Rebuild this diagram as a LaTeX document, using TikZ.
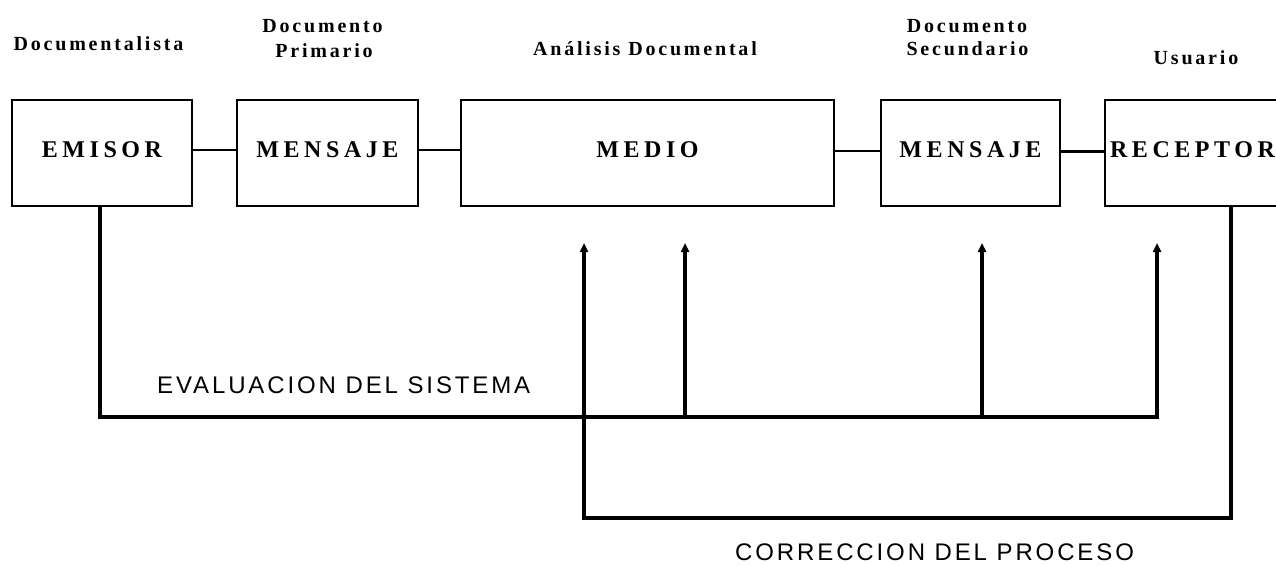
\documentclass[tikz,border=0pt]{standalone}
\usepackage{fontspec}
\setmainfont{Liberation Serif}
\newfontfamily\lblfont[LetterSpace=14]{Liberation Serif}
\newfontfamily\boxfont[LetterSpace=19]{Liberation Serif}
\newfontfamily\capfont[LetterSpace=12]{Liberation Sans}
\usetikzlibrary{arrows.meta}
\begin{document}
\begin{tikzpicture}[x=1pt,y=-1pt,
  blk/.style={draw,line width=1.5pt,minimum height=106pt,inner sep=0pt,
    text height=15pt,text depth=6pt,
    font=\boxfont\bfseries\fontsize{24}{27}\selectfont},
  lbl/.style={anchor=base,inner sep=0pt,
    font=\lblfont\bfseries\fontsize{20}{23}\selectfont},
  captxt/.style={anchor=base west,inner sep=0pt,
    font=\capfont\fontsize{24}{28}\selectfont},
  link/.style={line width=2pt},
  fb/.style={line width=3.2pt},
  arr/.style={fb,-{Triangle[length=9pt,width=8pt]}}]
\useasboundingbox (0,0) rectangle (1276,565);

% top labels
\node[lbl] (l1) at (98.5,50) {Documentalista};
\node[lbl] (l2a) at (322.5,32) {Documento};
\node[lbl] (l2b) at (324,57) {Primario};
\node[lbl] (l3) at (645,55) {Análisis Documental};
\node[lbl] (l4a) at (967,32) {Documento};
\node[lbl] (l4b) at (967.5,55) {Secundario};
\node[lbl] (l5) at (1196,64) {Usuario};

% boxes
\node[blk,minimum width=180pt] (emisor) at (102,153) {EMISOR};
\node[blk,minimum width=181pt] (mens1) at (327.5,153) {MENSAJE};
\node[blk,minimum width=373pt] (medio) at (647.5,153) {MEDIO};
\node[blk,minimum width=179pt] (mens2) at (970.5,153) {MENSAJE};
\node[blk,minimum width=175pt] (recep) at (1192.5,153) {RECEPTOR};

% chain connectors
\draw[link] ([yshift=3pt]emisor.east) -- ([yshift=3pt]mens1.west);
\draw[link] ([yshift=3pt]mens1.east) -- ([yshift=3pt]medio.west);
\draw[link] ([yshift=2pt]medio.east) -- ([yshift=2pt]mens2.west);
\draw[line width=3pt] ([yshift=2pt]mens2.east) -- ([yshift=2pt]recep.west);

% feedback coordinates
\coordinate (ev1) at (100,417);
\coordinate (ev2) at (1157,417);
\coordinate (b2) at (685,417);
\coordinate (b3) at (982,417);
\coordinate (top1) at (584,243);
\coordinate (top2) at (685,243);
\coordinate (top3) at (982,243);
\coordinate (top4) at (1157,243);
\coordinate (co1) at (1231,518);
\coordinate (co2) at (584,518);

% evaluation loop
\draw[arr] (emisor.south -| ev1) -- (ev1) -- (ev2) -- (top4);
\draw[arr] (b2) -- (top2);
\draw[arr] (b3) -- (top3);

% correction loop
\draw[arr] (recep.south -| co1) -- (co1) -- (co2) -- (top1);

% captions
\node[captxt] (ev) at (157,393) {EVALUACION DEL SISTEMA};
\node[captxt] (co) at (735,560) {CORRECCION DEL PROCESO};
\end{tikzpicture}
\end{document}
